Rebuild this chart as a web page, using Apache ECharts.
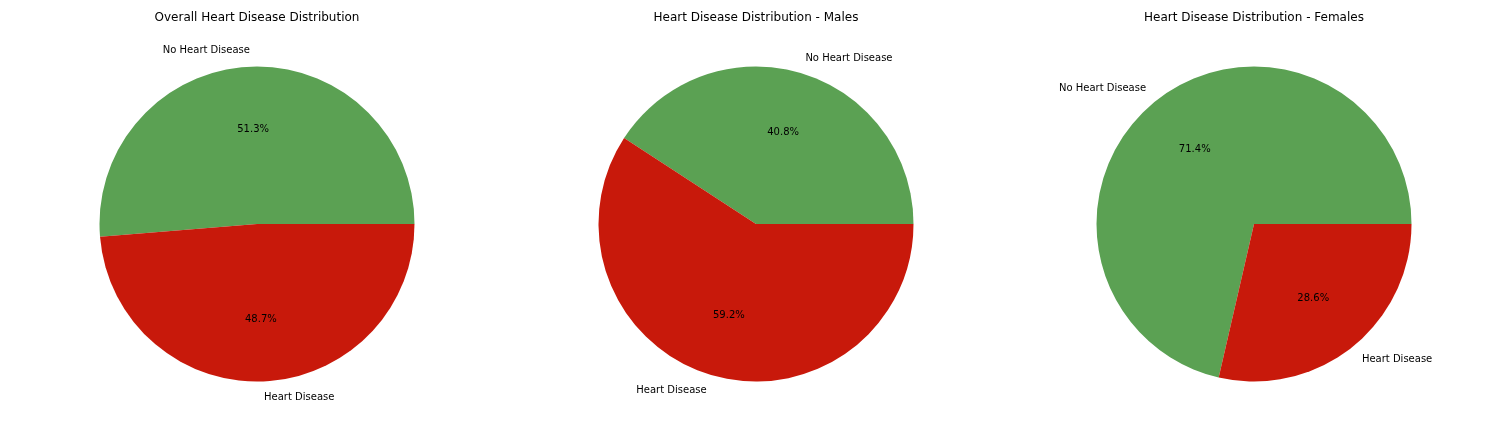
<!DOCTYPE html>
<html>
<head>
<meta charset="utf-8">
<script src="https://cdn.jsdelivr.net/npm/echarts@6/dist/echarts.min.js"></script>
<style>html,body{margin:0;padding:0;background:#fff}#c{width:1512px;height:432px}</style>
</head>
<body>
<div id="c"></div>
<script>
const categories = ['No Heart Disease', 'Heart Disease'];
const titles = ['Overall Heart Disease Distribution', 'Heart Disease Distribution - Males', 'Heart Disease Distribution - Females'];
const overallValues = [51.3, 48.7];
const maleValues = [40.8, 59.2];
const femaleValues = [71.4, 28.6];
const colors = ['#5ba153', '#c8190b'];

const allValues = [overallValues, maleValues, femaleValues];
const centersX = [257, 756, 1254];
const cy = 224;
const R = 157.5;
const font = 'DejaVu Sans';

const chart = echarts.init(document.getElementById('c'), null, {renderer: 'canvas'});
const series = [];
allValues.forEach((vals, i) => {
  const data = categories.map((c, k) => ({name: c, value: vals[k], itemStyle: {color: colors[k]}}));
  series.push({
    type: 'pie', center: [centersX[i], cy], radius: [0, R],
    startAngle: 0, clockwise: false, avoidLabelOverlap: false,
    percentPrecision: 1, silent: true, animation: false,
    label: {show: true, position: 'outside', formatter: '{b}', color: '#000', fontFamily: font, fontSize: 10, distanceToLabelLine: 0},
    labelLine: {show: false, length: R * 0.1, length2: 0},
    data: data
  });
  series.push({
    type: 'pie', center: [centersX[i], cy], radius: [0, R * 1.17],
    startAngle: 0, clockwise: false, avoidLabelOverlap: false,
    percentPrecision: 1, silent: true, animation: false,
    itemStyle: {color: 'rgba(0,0,0,0)'},
    label: {show: true, position: 'inside', formatter: '{d}%', color: '#000', fontFamily: font, fontSize: 10},
    labelLine: {show: false},
    data: categories.map((c, k) => ({name: c, value: vals[k]}))
  });
});

chart.setOption({
  backgroundColor: '#fff',
  animation: false,
  title: titles.map((t, i) => ({
    text: t, left: centersX[i], top: 12, textAlign: 'center', padding: 0,
    textStyle: {fontFamily: font, fontSize: 12, fontWeight: 'normal', color: '#000'}
  })),
  series: series
});
</script>
</body>
</html>
